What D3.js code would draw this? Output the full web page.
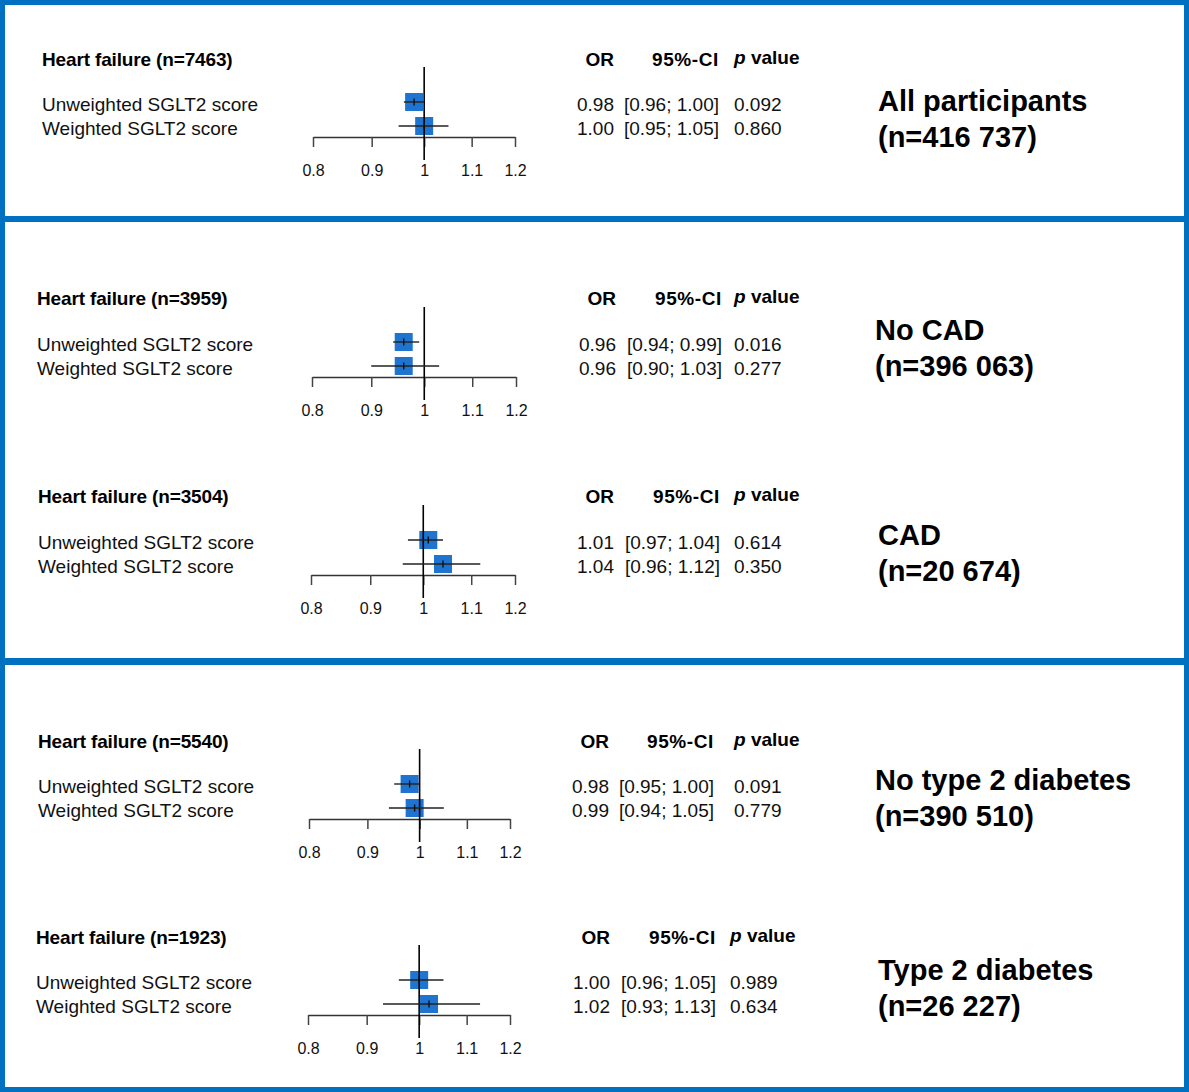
<!DOCTYPE html>
<html>
<head>
<meta charset="utf-8">
<script src="https://cdn.jsdelivr.net/npm/d3@7"></script>
<style>
  body { margin: 0; background: #fff; }
  svg { display: block; font-family: "Liberation Sans", Arial, sans-serif; }
</style>
</head>
<body>
<div id="chart"></div>
<script>
// data
const groups = ["All participants", "No CAD", "CAD", "No type 2 diabetes", "Type 2 diabetes"];
const groupN = ["416 737", "396 063", "20 674", "390 510", "26 227"];
const eventN = ["7463", "3959", "3504", "5540", "1923"];
const scores = ["Unweighted SGLT2 score", "Weighted SGLT2 score"];
const orValues = [[0.98, 1.00], [0.96, 0.96], [1.01, 1.04], [0.98, 0.99], [1.00, 1.02]];
const ciLow = [[0.96, 0.95], [0.94, 0.90], [0.97, 0.96], [0.95, 0.94], [0.96, 0.93]];
const ciHigh = [[1.00, 1.05], [0.99, 1.03], [1.04, 1.12], [1.00, 1.05], [1.05, 1.13]];
const pValues = [["0.092", "0.860"], ["0.016", "0.277"], ["0.614", "0.350"], ["0.091", "0.779"], ["0.989", "0.634"]];
const axisTicks = [0.8, 0.9, 1, 1.1, 1.2];

// where each forest panel sits on the page
const layout = [
  {titleX: 42, titleY: 59, row1: 102, axisX: [313, 515], orRight: 614, ciRight: 719, pX: 734, groupX: 878, groupY: 101},
  {titleX: 37, titleY: 298, row1: 342, axisX: [312, 516], orRight: 616, ciRight: 722, pX: 734, groupX: 875, groupY: 330},
  {titleX: 38, titleY: 496, row1: 540, axisX: [311, 515], orRight: 614, ciRight: 720, pX: 734, groupX: 878, groupY: 535},
  {titleX: 38, titleY: 741, row1: 784, axisX: [309, 510], orRight: 609, ciRight: 714, pX: 734, groupX: 875, groupY: 780},
  {titleX: 36, titleY: 937, row1: 980, axisX: [308, 510], orRight: 610, ciRight: 716, pX: 730, groupX: 878, groupY: 970}
];

const width = 1189, height = 1092;
const blue = "#0070C0";
const boxFill = "#1F74CF";
const rowGap = 24;
const fs = 19;
const hfs = 19;

const svg = d3.select("#chart").append("svg")
  .attr("width", width)
  .attr("height", height);

svg.append("rect").attr("width", width).attr("height", height).attr("fill", "#fff");

// frame + separators
svg.append("rect")
  .attr("x", 2.5).attr("y", 2.5)
  .attr("width", width - 5).attr("height", height - 5)
  .attr("fill", "none").attr("stroke", blue).attr("stroke-width", 5);
svg.append("rect").attr("x", 0).attr("y", 216).attr("width", width).attr("height", 6).attr("fill", blue);
svg.append("rect").attr("x", 0).attr("y", 658).attr("width", width).attr("height", 7).attr("fill", blue);

groups.forEach((g, i) => {
  const L = layout[i];
  const gp = svg.append("g");
  const x = d3.scaleLog().domain([0.8, 1.2]).range(L.axisX);
  const rows = scores.map((s, j) => ({
    label: s,
    or: orValues[i][j],
    lo: ciLow[i][j],
    hi: ciHigh[i][j],
    p: pValues[i][j],
    y: L.row1 + j * rowGap
  }));
  const axisY = L.row1 + 35;

  // title
  gp.append("text")
    .attr("x", L.titleX).attr("y", L.titleY).attr("dy", "0.35em")
    .attr("font-size", 19).attr("font-weight", "bold").attr("letter-spacing", -0.15)
    .text(`Heart failure (n=${eventN[i]})`);

  // headers
  const hy = L.titleY;
  gp.append("text").attr("x", L.orRight).attr("y", hy).attr("dy", "0.35em")
    .attr("text-anchor", "end").attr("font-size", hfs).attr("font-weight", "bold").text("OR");
  gp.append("text").attr("x", L.ciRight).attr("y", hy).attr("dy", "0.35em")
    .attr("text-anchor", "end").attr("font-size", hfs).attr("font-weight", "bold")
    .attr("letter-spacing", 0.6).text("95%-CI");
  const ph = gp.append("text").attr("x", L.pX).attr("y", hy - 2).attr("dy", "0.35em")
    .attr("font-size", hfs).attr("font-weight", "bold");
  ph.append("tspan").attr("font-style", "italic").text("p");
  ph.append("tspan").text(" value");

  // row labels and numbers
  rows.forEach(r => {
    const ty = r.y + 2.5;
    gp.append("text").attr("x", L.titleX).attr("y", ty).attr("dy", "0.35em")
      .attr("font-size", fs).attr("fill", "#111").text(r.label);
    gp.append("text").attr("x", L.orRight).attr("y", ty).attr("dy", "0.35em")
      .attr("text-anchor", "end").attr("font-size", fs).attr("fill", "#111").text(d3.format(".2f")(r.or));
    gp.append("text").attr("x", L.ciRight).attr("y", ty).attr("dy", "0.35em")
      .attr("text-anchor", "end").attr("font-size", fs).attr("fill", "#111")
      .text(`[${d3.format(".2f")(r.lo)}; ${d3.format(".2f")(r.hi)}]`);
    gp.append("text").attr("x", L.pX).attr("y", ty).attr("dy", "0.35em")
      .attr("font-size", fs).attr("fill", "#111").text(r.p);
  });

  // axis
  const ax = gp.append("g")
    .attr("transform", `translate(0,${axisY})`)
    .call(d3.axisBottom(x)
      .tickValues(axisTicks)
      .tickFormat(d => String(d))
      .tickSize(10)
      .tickSizeOuter(0)
      .tickPadding(18));
  ax.select(".domain").attr("stroke", "#333").attr("stroke-width", 1.5);
  ax.selectAll(".tick line").attr("stroke", "#444").attr("stroke-width", 1.5);
  ax.selectAll(".tick text")
    .attr("font-family", "'Liberation Sans', Arial, sans-serif")
    .attr("font-size", 16).attr("fill", "#111");

  // boxes
  const sq = 18;
  gp.selectAll("rect.box")
    .data(rows)
    .join("rect")
    .attr("class", "box")
    .attr("x", d => x(d.or) - sq / 2)
    .attr("y", d => d.y - sq / 2)
    .attr("width", sq).attr("height", sq)
    .attr("fill", boxFill);

  // reference line at OR = 1
  gp.append("line")
    .attr("x1", x(1)).attr("x2", x(1))
    .attr("y1", L.row1 - 35).attr("y2", axisY + 23)
    .attr("stroke", "#000").attr("stroke-width", 1.6);

  // confidence intervals
  gp.selectAll("line.ci")
    .data(rows)
    .join("line")
    .attr("class", "ci")
    .attr("x1", d => x(d.lo)).attr("x2", d => x(d.hi))
    .attr("y1", d => d.y).attr("y2", d => d.y)
    .attr("stroke", "#222").attr("stroke-width", 1.4);

  // point estimate tick
  gp.selectAll("line.pt")
    .data(rows)
    .join("line")
    .attr("class", "pt")
    .attr("x1", d => x(d.or)).attr("x2", d => x(d.or))
    .attr("y1", d => d.y - 3.5).attr("y2", d => d.y + 3.5)
    .attr("stroke", "#111").attr("stroke-width", 1.4);

  // group label on the right
  const gl = gp.append("text")
    .attr("x", L.groupX).attr("y", L.groupY).attr("dy", "0.35em")
    .attr("font-size", 29).attr("font-weight", "bold").attr("fill", "#000");
  gl.append("tspan").attr("x", L.groupX).text(g);
  gl.append("tspan").attr("x", L.groupX).attr("dy", 36).text(`(n=${groupN[i]})`);
});
</script>
</body>
</html>
